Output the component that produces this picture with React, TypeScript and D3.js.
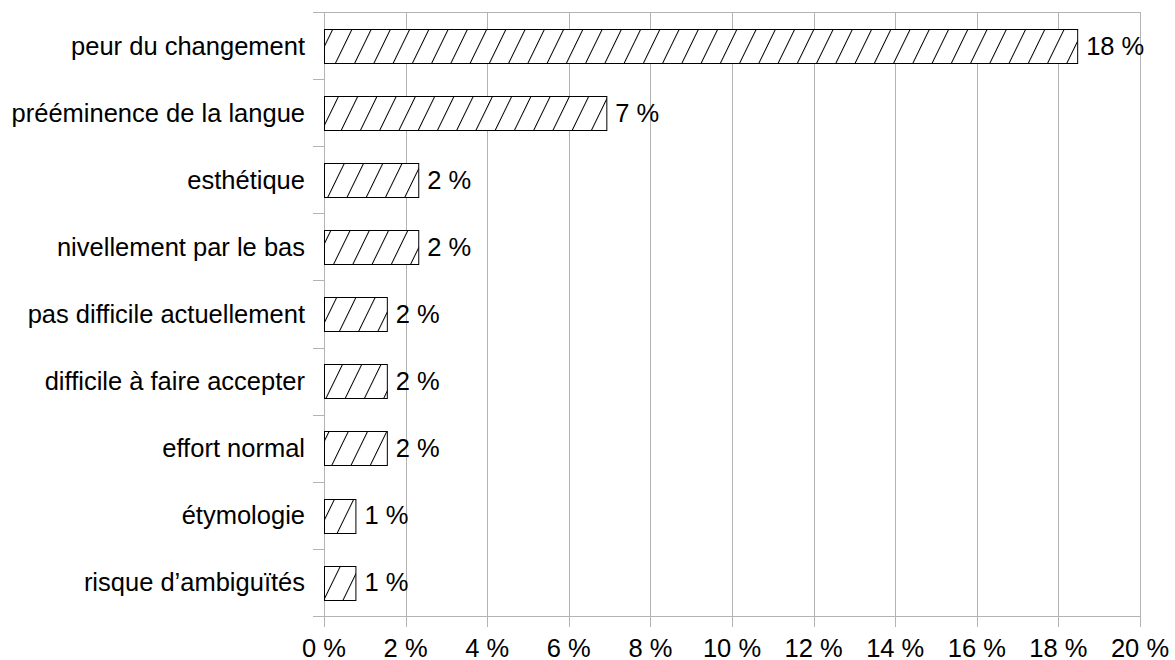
import React from "react";
import * as d3 from "d3";

const categories = [
  "peur du changement",
  "prééminence de la langue",
  "esthétique",
  "nivellement par le bas",
  "pas difficile actuellement",
  "difficile à faire accepter",
  "effort normal",
  "étymologie",
  "risque d’ambiguïtés",
];
const values = [18.46, 6.92, 2.31, 2.31, 1.54, 1.54, 1.54, 0.77, 0.77];
const xTicks = [0, 2, 4, 6, 8, 10, 12, 14, 16, 18, 20];

const W = 1175;
const H = 660;
const left = 324;
const right = 1140;
const top = 12;
const bottom = 616;
const grid = "#b3b3b3";
const font = "'Liberation Sans', Arial, sans-serif";
const fs = 25.5;

export default function App() {
  const x = d3.scaleLinear().domain([0, 20]).range([left, right]);
  const y = d3
    .scaleBand<string>()
    .domain(categories)
    .range([top, bottom])
    .paddingInner(0.5)
    .paddingOuter(0.25);
  const step = y.step();
  const bounds = d3.range(categories.length + 1).map((i) => top + i * step);

  return (
    <svg
      width={W}
      height={H}
      style={{ position: "absolute", left: 0, top: 0, background: "#fff" }}
    >
      <defs>
        <pattern
          id="hatch"
          patternUnits="userSpaceOnUse"
          width={17.3}
          height={17.3}
          patternTransform="rotate(26)"
        >
          <rect width={17.3} height={17.3} fill="#fff" />
          <line x1={0.5} y1={0} x2={0.5} y2={17.3} stroke="#000" strokeWidth={1} />
        </pattern>
      </defs>
      <rect width={W} height={H} fill="#fff" />
      <line x1={313} x2={right} y1={top + 0.5} y2={top + 0.5} stroke={grid} strokeWidth={1} />
      {xTicks.map((t) => (
        <line
          key={"g" + t}
          x1={Math.round(x(t)) + 0.5}
          x2={Math.round(x(t)) + 0.5}
          y1={top}
          y2={bottom + 11}
          stroke={grid}
          strokeWidth={1}
        />
      ))}
      <line x1={313} x2={right} y1={bottom + 0.5} y2={bottom + 0.5} stroke={grid} strokeWidth={1} />
      {bounds.map((b, i) => (
        <line
          key={"t" + i}
          x1={313}
          x2={left}
          y1={Math.round(b) + 0.5}
          y2={Math.round(b) + 0.5}
          stroke={grid}
          strokeWidth={1}
        />
      ))}
      {categories.map((c, i) => (
        <rect
          key={"b" + c}
          x={x(0) + 0.5}
          y={Math.round(y(c)!) + 0.5}
          width={x(values[i]) - x(0)}
          height={Math.round(y.bandwidth())}
          fill="url(#hatch)"
          stroke="#000"
          strokeWidth={1}
        />
      ))}
      {categories.map((c) => (
        <text
          key={"l" + c}
          x={305}
          y={y(c)! + y.bandwidth() / 2}
          textAnchor="end"
          dominantBaseline="central"
          fontFamily={font}
          fontSize={fs}
          fill="#000"
        >
          {c}
        </text>
      ))}
      {categories.map((c, i) => (
        <text
          key={"v" + c}
          x={x(values[i]) + 9}
          y={y(c)! + y.bandwidth() / 2}
          dominantBaseline="central"
          fontFamily={font}
          fontSize={fs}
          fill="#000"
        >
          {Math.round(values[i]) + " %"}
        </text>
      ))}
      {xTicks.map((t) => (
        <text
          key={"x" + t}
          x={x(t)}
          y={657}
          textAnchor="middle"
          fontFamily={font}
          fontSize={fs}
          fill="#000"
        >
          {t + " %"}
        </text>
      ))}
    </svg>
  );
}
